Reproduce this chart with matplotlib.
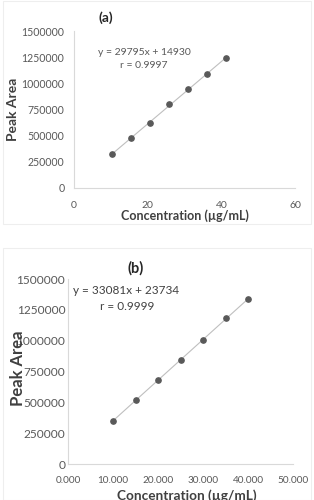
import matplotlib
matplotlib.use("Agg")
import matplotlib.pyplot as plt
from matplotlib.patches import Rectangle
import numpy as np

plt.rcParams['font.family'] = ['Lato', 'DejaVu Sans']

W, H = 314, 500

# panel (a)
conc_a = [10.3, 15.5, 20.6, 25.8, 31.0, 36.2, 41.3]
area_a = [322000, 475000, 624000, 800000, 943000, 1092000, 1242000]
xticks_a = [0, 20, 40, 60]
xticklabels_a = ["0", "20", "40", "60"]

# panel (b)
conc_b = [10.0, 15.0, 20.0, 25.0, 30.0, 35.0, 40.0]
area_b = [351000, 519000, 684000, 844000, 1003000, 1187000, 1336000]
xticks_b = [0, 10, 20, 30, 40, 50]
xticklabels_b = ["0.000", "10.000", "20.000", "30.000", "40.000", "50.000"]

yticks = [0, 250000, 500000, 750000, 1000000, 1250000, 1500000]
yticklabels = [str(v) for v in yticks]

TICK_C = "#595959"
LABEL_C = "#404040"
SPINE_C = "#d9d9d9"


def px_axes(fig, left, right, top, bottom):
    return fig.add_axes([left / W, 1 - bottom / H, (right - left) / W, (bottom - top) / H])


def style_axes(ax, xpad, ypad, xsize, ysize):
    for s in ["top", "right"]:
        ax.spines[s].set_visible(False)
    for s in ["left", "bottom"]:
        ax.spines[s].set_color(SPINE_C)
        ax.spines[s].set_linewidth(0.8)
    ax.tick_params(axis="both", length=0, labelcolor=TICK_C)
    ax.tick_params(axis="x", pad=xpad, labelsize=xsize)
    ax.tick_params(axis="y", pad=ypad, labelsize=ysize)


def plot_panel(ax, x, y, xlim, xticks, xticklabels):
    # trendline between first and last point
    coef = np.polyfit(x, y, 1)
    xx = np.array([x[0], x[-1]])
    ax.plot(xx, np.polyval(coef, xx), color="#bfbfbf", lw=0.8, zorder=1)
    ax.plot(x, y, "o", color="#595959", markersize=3.8, zorder=2)
    ax.set_xlim(*xlim)
    ax.set_ylim(0, 1500000)
    ax.set_xticks(xticks)
    ax.set_xticklabels(xticklabels)
    ax.set_yticks(yticks)
    ax.set_yticklabels(yticklabels)


fig = plt.figure(figsize=(W / 100, H / 100), dpi=100)

# faint chart frames
fig.add_artist(Rectangle((3 / W, 1 - 224 / H), 308 / W, 223 / H, transform=fig.transFigure,
                         fill=False, edgecolor="#eeeeee", lw=0.8))
fig.add_artist(Rectangle((3 / W, 0), 308 / W, 1 - 248 / H, transform=fig.transFigure,
                         fill=False, edgecolor="#eeeeee", lw=0.8))

ax_a = px_axes(fig, 74, 295, 31, 188)
plot_panel(ax_a, conc_a, area_a, (0, 60), xticks_a, xticklabels_a)
style_axes(ax_a, xpad=9.5, ypad=7, xsize=7.5, ysize=7.6)

ax_b = px_axes(fig, 68, 293.3, 279, 464.3)
plot_panel(ax_b, conc_b, area_b, (0, 50), xticks_b, xticklabels_b)
style_axes(ax_b, xpad=8.5, ypad=2, xsize=7.2, ysize=8.6)


def ftext(x, y, s, **kw):
    fig.text(x / W, 1 - y / H, s, ha="center", va="center", **kw)


# panel (a) texts
ftext(106, 18, "(a)", fontsize=10, fontweight="bold", color="#262626")
ftext(144, 52.7, "y = 29795x + 14930", fontsize=7.5, color=TICK_C)
ftext(144, 65, "r = 0.9997", fontsize=7.5, color=TICK_C)
ftext(13.3, 109, "Peak Area", fontsize=10, fontweight="bold", color=LABEL_C, rotation=90)
ftext(185, 216, "Concentration (\u00b5g/mL)", fontsize=9, fontweight="bold", color=LABEL_C)

# panel (b) texts
ftext(136, 268, "(b)", fontsize=10.5, fontweight="bold", color="#262626")
ftext(126, 290.7, "y = 33081x + 23734", fontsize=8.5, color="#404040")
ftext(126.7, 306, "r = 0.9999", fontsize=8.5, color="#404040")
ftext(18.3, 368, "Peak Area", fontsize=12, fontweight="bold", color=LABEL_C, rotation=90)
ftext(186.7, 496, "Concentration (\u00b5g/mL)", fontsize=9.8, fontweight="bold", color=LABEL_C)

fig.savefig("out.png", dpi=100)
